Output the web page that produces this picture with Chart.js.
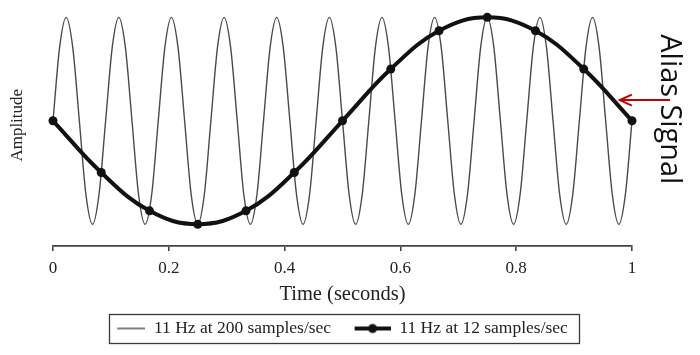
<!DOCTYPE html>
<html>
<head>
<meta charset="utf-8">
<script src="https://cdn.jsdelivr.net/npm/chart.js@4/dist/chart.umd.min.js"></script>
<style>
  html, body { margin: 0; padding: 0; background: #ffffff; }
  #wrap { width: 700px; height: 355px; position: relative; }
</style>
</head>
<body>
<div id="wrap"><canvas id="c" width="700" height="355"></canvas></div>
<script>
// ---------------- data ----------------
const seriesNames = ['11 Hz at 200 samples/sec', '11 Hz at 12 samples/sec'];
const xTitle = 'Time (seconds)';
const yTitle = 'Amplitude';
const annotationText = 'Alias Signal';
const xTickValues = [0, 0.2, 0.4, 0.6, 0.8, 1];
const xTickLabels = ['0', '0.2', '0.4', '0.6', '0.8', '1'];

// thin 11 Hz curve (8 readings per cycle)
const fastTimes = [
  0, 0.0114, 0.0227, 0.0341, 0.0455, 0.0568, 0.0682, 0.0795,
  0.0909, 0.1023, 0.1136, 0.1250, 0.1364, 0.1477, 0.1591, 0.1705,
  0.1818, 0.1932, 0.2045, 0.2159, 0.2273, 0.2386, 0.2500, 0.2614,
  0.2727, 0.2841, 0.2955, 0.3068, 0.3182, 0.3295, 0.3409, 0.3523,
  0.3636, 0.3750, 0.3864, 0.3977, 0.4091, 0.4205, 0.4318, 0.4432,
  0.4545, 0.4659, 0.4773, 0.4886, 0.5000, 0.5114, 0.5227, 0.5341,
  0.5455, 0.5568, 0.5682, 0.5795, 0.5909, 0.6023, 0.6136, 0.6250,
  0.6364, 0.6477, 0.6591, 0.6705, 0.6818, 0.6932, 0.7045, 0.7159,
  0.7273, 0.7386, 0.7500, 0.7614, 0.7727, 0.7841, 0.7955, 0.8068,
  0.8182, 0.8295, 0.8409, 0.8523, 0.8636, 0.8750, 0.8864, 0.8977,
  0.9091, 0.9205, 0.9318, 0.9432, 0.9545, 0.9659, 0.9773, 0.9886,
  1
];
const fastValues = [
  0, 0.71, 1, 0.71, 0, -0.71, -1, -0.71,
  0, 0.71, 1, 0.71, 0, -0.71, -1, -0.71,
  0, 0.71, 1, 0.71, 0, -0.71, -1, -0.71,
  0, 0.71, 1, 0.71, 0, -0.71, -1, -0.71,
  0, 0.71, 1, 0.71, 0, -0.71, -1, -0.71,
  0, 0.71, 1, 0.71, 0, -0.71, -1, -0.71,
  0, 0.71, 1, 0.71, 0, -0.71, -1, -0.71,
  0, 0.71, 1, 0.71, 0, -0.71, -1, -0.71,
  0, 0.71, 1, 0.71, 0, -0.71, -1, -0.71,
  0, 0.71, 1, 0.71, 0, -0.71, -1, -0.71,
  0, 0.71, 1, 0.71, 0, -0.71, -1, -0.71,
  0
];

// thick 12 samples/sec series
const sampleTimes = [0, 0.0833, 0.1667, 0.25, 0.3333, 0.4167, 0.5, 0.5833, 0.6667, 0.75, 0.8333, 0.9167, 1];
const sampleValues = [0, -0.5, -0.87, -1, -0.87, -0.5, 0, 0.5, 0.87, 1, 0.87, 0.5, 0];

// ---------------- styling ----------------
const SERIF = '"Liberation Serif", "Times New Roman", serif';
const THIN_COLOR = '#4a4a4a';
const THICK_COLOR = '#111111';
const ICON_W = 44;

function makeIcon(kind) {
  const cv = document.createElement('canvas');
  cv.width = ICON_W; cv.height = 12;
  const g = cv.getContext('2d');
  if (kind === 'thin') {
    g.strokeStyle = THIN_COLOR; g.lineWidth = 1.4;
    g.beginPath(); g.moveTo(ICON_W - 28, 6); g.lineTo(ICON_W, 6); g.stroke();
  } else {
    g.strokeStyle = THICK_COLOR; g.lineWidth = 4;
    g.beginPath(); g.moveTo(ICON_W - 36, 6); g.lineTo(ICON_W, 6); g.stroke();
    g.fillStyle = THICK_COLOR;
    g.beginPath(); g.arc(ICON_W - 18, 6, 4.5, 0, Math.PI * 2); g.fill();
  }
  return cv;
}
const thinIcon = makeIcon('thin');
const thickIcon = makeIcon('thick');

const legendFrame = {
  id: 'legendFrame',
  afterDraw(chart) {
    const hb = chart.legend && chart.legend.legendHitBoxes;
    if (!hb || !hb.length) return;
    const ctx = chart.ctx;
    const first = hb[0], last = hb[hb.length - 1];
    const left = first.left + (ICON_W - 28) - 8;
    const right = last.left + last.width + 11;
    const cy = first.top + first.height / 2;
    ctx.save();
    ctx.strokeStyle = '#3a3a3a';
    ctx.lineWidth = 1.3;
    ctx.strokeRect(Math.round(left) + 0.5, Math.round(cy - 14.5) + 0.5, Math.round(right - left), 29);
    ctx.restore();
  }
};

// annotation anchor in data units (arrow tip) and text placement
const arrowTip = { t: 0.979, v: 0.2 };
const aliasAnnotation = {
  id: 'aliasAnnotation',
  afterDraw(chart) {
    const ctx = chart.ctx;
    const xs = chart.scales.x, ys = chart.scales.y;
    const tipX = xs.getPixelForValue(arrowTip.t);
    const tipY = ys.getPixelForValue(arrowTip.v);
    const textX = chart.chartArea.right + 37;   // centre of letters
    const textTop = ys.getPixelForValue(1) + 17;
    const textLen = 150;
    // arrow
    ctx.save();
    ctx.strokeStyle = '#c00000';
    ctx.lineWidth = 2;
    ctx.beginPath(); ctx.moveTo(textX + 1, tipY); ctx.lineTo(tipX + 1, tipY); ctx.stroke();
    ctx.beginPath();
    ctx.moveTo(tipX + 12, tipY - 5.5); ctx.lineTo(tipX, tipY); ctx.lineTo(tipX + 12, tipY + 5.5);
    ctx.stroke();
    ctx.restore();
    // text (vertical, reading downward)
    ctx.save();
    ctx.font = '29px "Open Sans", sans-serif';
    ctx.fillStyle = '#111111';
    ctx.textAlign = 'center';
    ctx.textBaseline = 'middle';
    const w = ctx.measureText(annotationText).width;
    ctx.translate(textX, textTop + textLen / 2);
    ctx.rotate(Math.PI / 2);
    ctx.scale(textLen / w, 1);
    ctx.fillText(annotationText, 0, 0);
    ctx.restore();
  }
};

new Chart(document.getElementById('c'), {
  type: 'line',
  data: {
    datasets: [
      {
        label: seriesNames[0],
        data: fastTimes.map((t, i) => ({ x: t, y: fastValues[i] })),
        borderColor: THIN_COLOR,
        borderWidth: 1.4,
        pointRadius: 0,
        cubicInterpolationMode: 'monotone',
        clip: false,
        order: 1
      },
      {
        label: seriesNames[1],
        data: sampleTimes.map((t, i) => ({ x: t, y: sampleValues[i] })),
        borderColor: THICK_COLOR,
        borderWidth: 4,
        pointRadius: 4.5,
        pointBackgroundColor: THICK_COLOR,
        pointBorderWidth: 0,
        tension: 0.4,
        clip: false,
        order: 0
      }
    ]
  },
  options: {
    responsive: false,
    animation: false,
    devicePixelRatio: 1,
    layout: { padding: { left: 0, right: 31, top: 2, bottom: 7.75 } },
    scales: {
      x: {
        type: 'linear',
        min: 0, max: 1,
        afterBuildTicks: s => { s.ticks = xTickValues.map(v => ({ value: v })); },
        ticks: {
          callback: (v, i) => xTickLabels[i],
          font: { family: SERIF, size: 17 },
          color: '#222',
          padding: 7.8,
          maxRotation: 0,
          autoSkip: false
        },
        grid: { display: true, drawOnChartArea: false, drawTicks: true, tickLength: 5, color: '#444', lineWidth: 1.6 },
        border: { display: true, color: '#444', width: 1.8 },
        title: { display: true, text: xTitle, font: { family: SERIF, size: 20.5 }, color: '#222', padding: { top: -4.3, bottom: -3.05 } }
      },
      y: {
        min: -1.21, max: 1.124,
        ticks: { display: false },
        grid: { display: false },
        border: { display: false },
        title: { display: true, text: yTitle, font: { family: SERIF, size: 17 }, color: '#222', padding: { top: 7, bottom: 0 } },
        afterFit: s => { s.width = 53; }
      },
      y2: {
        position: 'right',
        display: true,
        ticks: { display: false },
        grid: { display: false },
        border: { display: false },
        afterFit: s => { s.width = 37; }
      }
    },
    plugins: {
      tooltip: { enabled: false },
      legend: {
        position: 'bottom',
        labels: {
          usePointStyle: true,
          pointStyleWidth: ICON_W,
          padding: 15.5,
          font: { family: SERIF, size: 17.5 },
          color: '#222',
          generateLabels: () => [
            { text: seriesNames[0], pointStyle: thinIcon, fontColor: '#222', lineWidth: 0, strokeStyle: 'rgba(0,0,0,0)', fillStyle: 'rgba(0,0,0,0)', datasetIndex: 0 },
            { text: seriesNames[1], pointStyle: thickIcon, fontColor: '#222', lineWidth: 0, strokeStyle: 'rgba(0,0,0,0)', fillStyle: 'rgba(0,0,0,0)', datasetIndex: 1 }
          ]
        }
      }
    }
  },
  plugins: [legendFrame, aliasAnnotation]
});
</script>
</body>
</html>
